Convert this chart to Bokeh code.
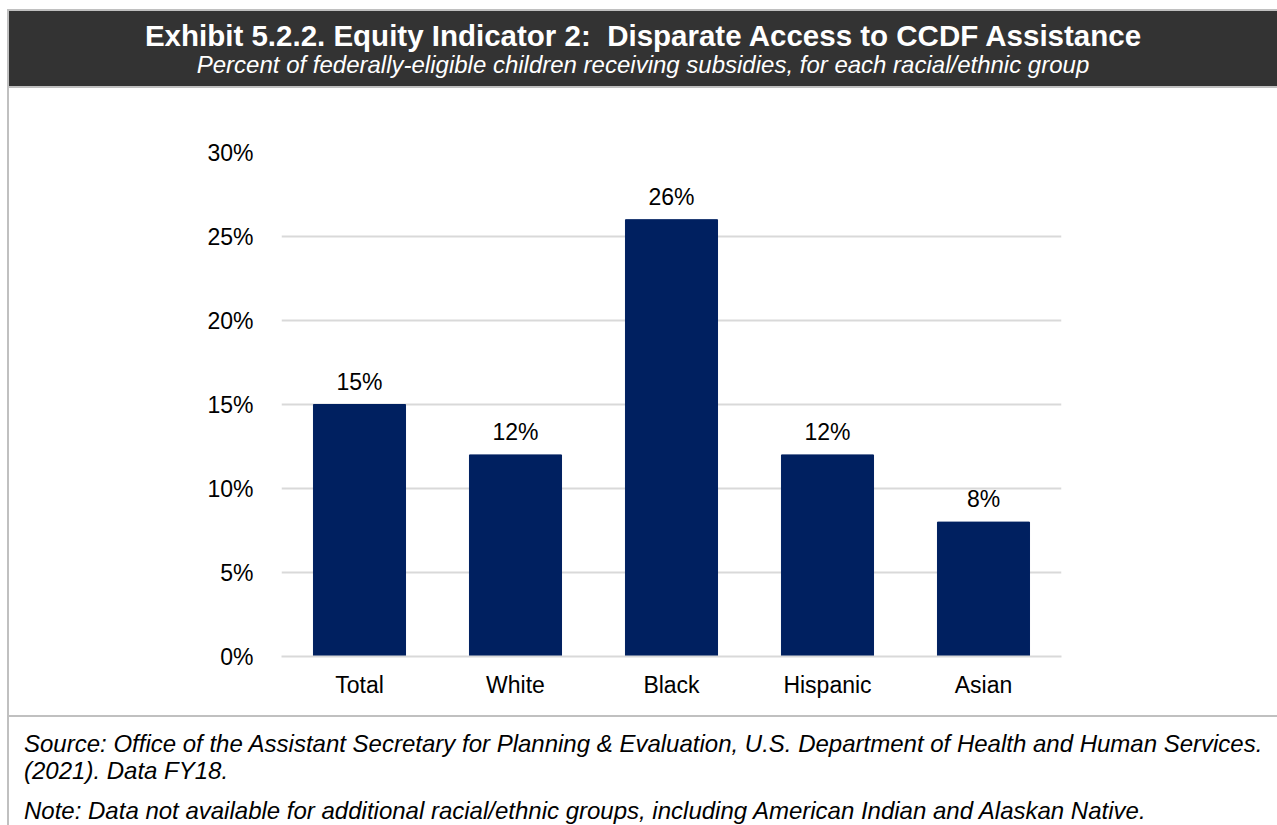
from bokeh.plotting import figure
from bokeh.models import (ColumnDataSource, FactorRange, Range1d, FixedTicker,
                          PrintfTickFormatter, LabelSet, Div)
from bokeh.layouts import column, row
from bokeh.core.properties import value
from bokeh.embed import file_html
from bokeh.resources import INLINE

# ---- data ----
categories = ["Total", "White", "Black", "Hispanic", "Asian"]
values = [15, 12, 26, 12, 8]
value_labels = ["15%", "12%", "26%", "12%", "8%"]
y_ticks = [0, 5, 10, 15, 20, 25, 30]

title_text = "Exhibit 5.2.2. Equity Indicator 2:&nbsp; Disparate Access to CCDF Assistance"
subtitle_text = "Percent of federally-eligible children receiving subsidies, for each racial/ethnic group"
source_text = ("Source: Office of the Assistant Secretary for Planning &amp; Evaluation, U.S. Department of "
               "Health and Human Services.<br>(2021). Data FY18.")
note_text = "Note: Data not available for additional racial/ethnic groups, including American Indian and Alaskan Native."

FONT = "'Liberation Sans', Arial, sans-serif"
BORDER = "#c0c0c0"
TXT = "23px"

top_space = Div(width=1277, height=9, text="&nbsp;",
                styles={"margin": "0", "padding": "0", "font-size": "1px", "line-height": "1px"})

header = Div(
    width=1277, height=79,
    text=(f"<div style=\"padding:0 0 0 7px; width:1277px; height:79px; box-sizing:border-box; overflow:hidden;\">"
          f"<div style=\"width:1270px; height:79px; box-sizing:border-box; "
          f"background:#333333; border:2px solid {BORDER}; border-right:none; color:white; "
          f"text-align:center; font-family:{FONT}; white-space:nowrap;\">"
          f"<div style=\"font-size:29.5px; font-weight:bold; line-height:32px; padding-top:9px;\">{title_text}</div>"
          f"<div style=\"font-size:24px; font-style:italic; line-height:26px; padding-top:0px;\">{subtitle_text}</div>"
          f"</div></div>"),
    styles={"margin": "0", "padding": "0"},
)

source = ColumnDataSource(dict(cat=categories, val=values, lab=value_labels))

p = figure(width=1268, height=627, x_range=FactorRange(*categories),
           y_range=Range1d(0, 30), output_backend="svg", toolbar_location=None,
           min_border_left=272, min_border_right=216, min_border_top=64,
           min_border_bottom=59)
p.outline_line_color = None
p.background_fill_color = "white"
p.border_fill_color = "white"

p.vbar(x="cat", top="val", width=0.59, source=source, color="#002060")

labels = LabelSet(x="cat", y="val", text="lab", source=source, y_offset=10,
                  text_align="center", text_baseline="bottom",
                  text_font=value("Liberation Sans"), text_font_size=TXT, text_color="black")
p.add_layout(labels)

p.yaxis.ticker = FixedTicker(ticks=y_ticks)
p.yaxis.formatter = PrintfTickFormatter(format="%d%%")
p.yaxis.axis_line_color = None
p.yaxis.major_tick_line_color = None
p.yaxis.minor_tick_line_color = None
p.yaxis.major_label_standoff = 22
p.yaxis.major_label_text_font = "Liberation Sans"
p.yaxis.major_label_text_font_size = TXT
p.yaxis.major_label_text_color = "black"

p.xaxis.axis_line_color = "#d9d9d9"
p.xaxis.axis_line_width = 2
p.xaxis.major_tick_line_color = None
p.xaxis.minor_tick_line_color = None
p.xaxis.major_label_standoff = 9
p.xaxis.major_label_text_font = "Liberation Sans"
p.xaxis.major_label_text_font_size = TXT
p.xaxis.major_label_text_color = "black"

p.xgrid.grid_line_color = None
p.ygrid.grid_line_color = "#d9d9d9"
p.ygrid.grid_line_width = 2

left_border = Div(
    width=9, height=627,
    text=(f"<div style=\"margin-left:7px; width:2px; height:627px; background:{BORDER};\"></div>"),
    styles={"margin": "0", "padding": "0"},
)

footer = Div(
    width=1277, height=110,
    text=(f"<div style=\"padding-left:7px; width:1277px; height:110px; box-sizing:border-box; overflow:hidden;\">"
          f"<div style=\"width:1270px; height:110px; box-sizing:border-box; "
          f"border-left:2px solid {BORDER}; border-top:2px solid {BORDER}; "
          f"font-family:{FONT}; font-style:italic; font-size:24px; color:black; padding:13px 0 0 15px;\">"
          f"<div style=\"line-height:27px;\">{source_text}</div>"
          f"<div style=\"line-height:27px; padding-top:13px; white-space:nowrap;\">{note_text}</div>"
          f"</div></div>"),
    styles={"margin": "0", "padding": "0"},
)

layout = column(top_space, header, row(left_border, p, spacing=0), footer, spacing=0)
open("out.html", "w").write(file_html(layout, INLINE))
